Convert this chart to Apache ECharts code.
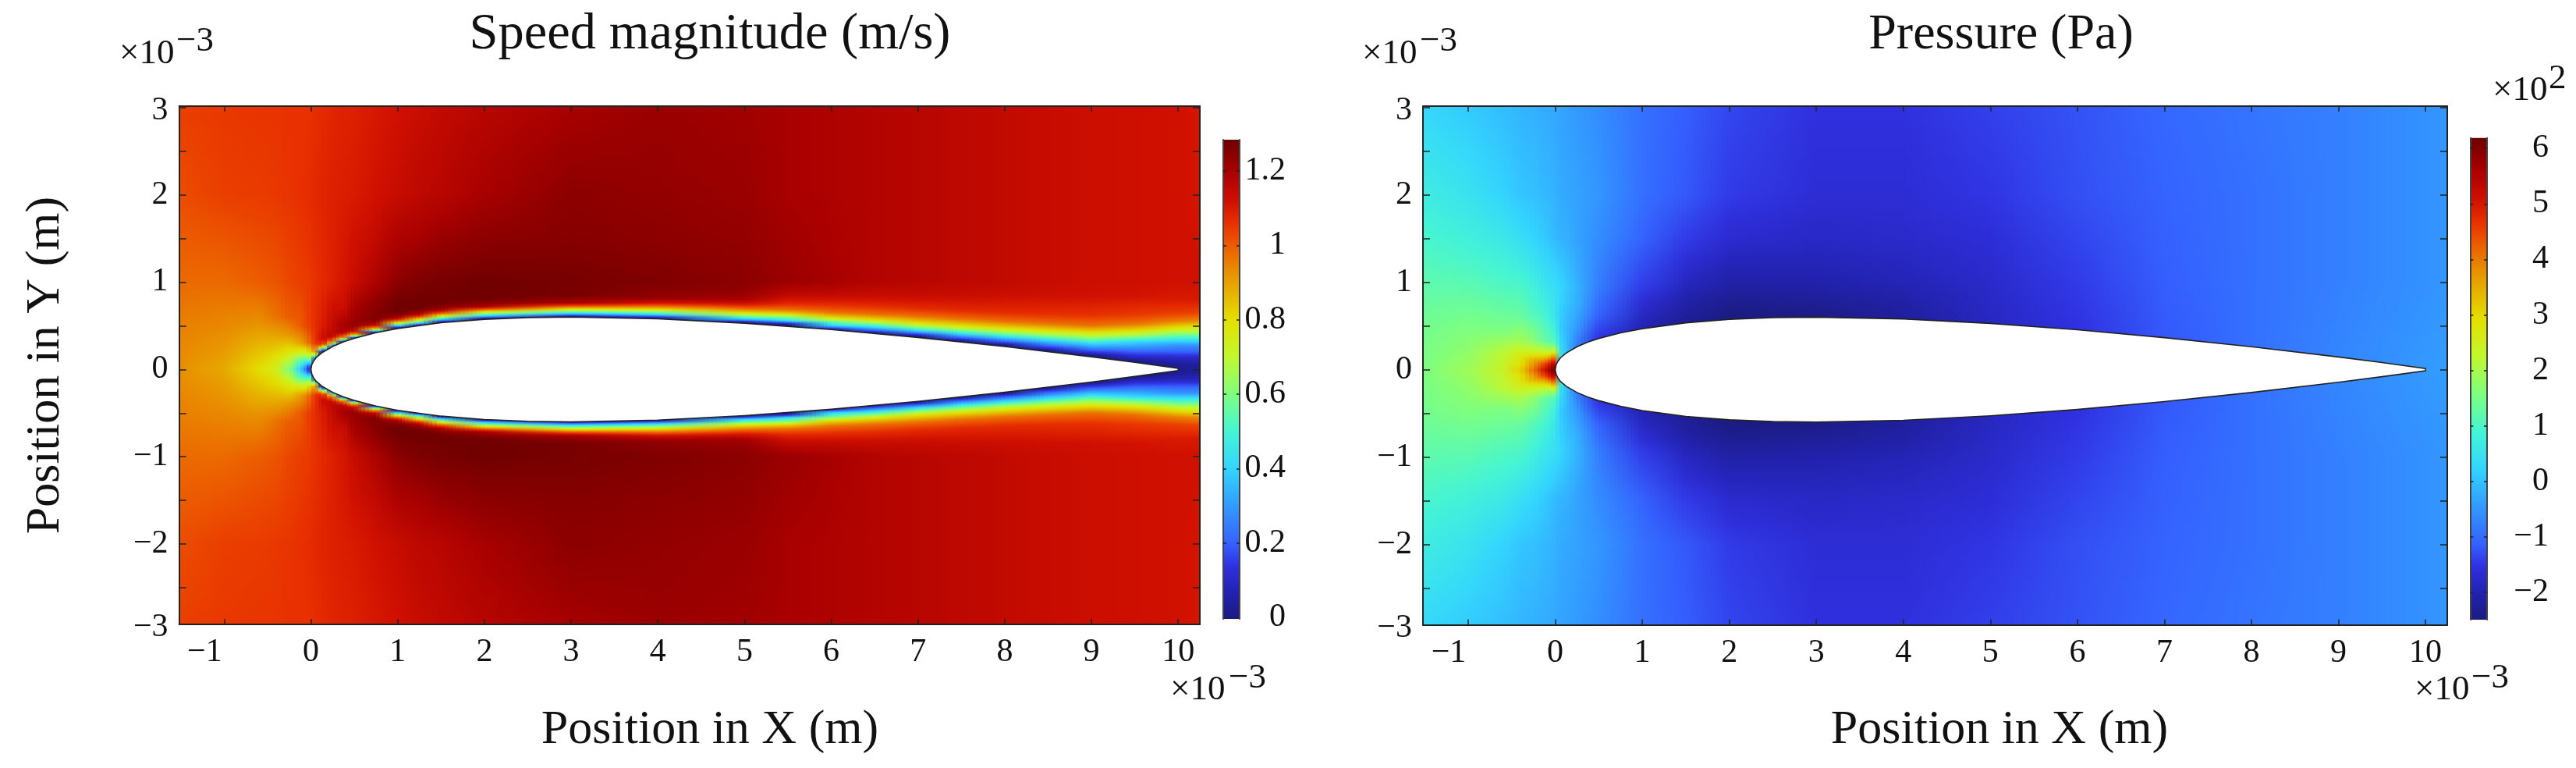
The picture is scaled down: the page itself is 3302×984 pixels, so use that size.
<!DOCTYPE html>
<html>
<head>
<meta charset="utf-8">
<title>Speed magnitude and pressure</title>
<style>
html,body{margin:0;padding:0;background:#fff;}
#main{width:3302px;height:984px;}
</style>
<script src="https://cdn.jsdelivr.net/npm/echarts@6/dist/echarts.min.js"></script>
</head>
<body>
<div id="main"></div>
<script>
// tick positions, x and y in 10^-3 m
var xTicks = [-1,0,1,2,3,4,5,6,7,8,9,10];
var yTicks = [-2.5,-2,-1.5,-1,-0.5,0,0.5,1,1.5,2,2.5,3];
var speedTicks = [0.2,0.4,0.6,0.8,1,1.2];
var speedLabels = [0,0.2,0.4,0.6,0.8,1,1.2];
var pressureTicks = [-2,-1,0,1,2,3,4,5,6];

// airfoil half thickness
var foilX = [0,0.01,0.03,0.06,0.125,0.25,0.375,0.5,0.75,1,1.5,2,2.5,3,4,5,6,7,8,9,9.5,10];
var foilY = [0,0.055,0.095,0.135,0.19,0.262,0.315,0.3555,0.42,0.468,0.535,0.574,0.594,0.6,0.58,0.529,0.456,0.366,0.262,0.145,0.081,0.013];

// speed, column by column: y, value, y, value ... (upper half, the field is symmetric)
var speedX = [-1.52,-1,-0.6,-0.4,-0.25,-0.12,-0.05,0,0.05,0.125,0.18,0.25,0.375,0.5,0.75,1,1.25,1.5,2,3,4,5,5.5,6,6.5,7,7.5,8,8.5,9,9.5,10,10.25];
var speedCols = [
	[0,0.93, 0.5,0.95, 1,0.98, 2,1.02, 3,1.04],
	[0,0.89, 0.5,0.94, 1,0.98, 2,1.04, 3,1.05],
	[0,0.8, 0.5,0.92, 1,1.0, 2,1.045, 3,1.055],
	[0,0.74, 0.4,0.9, 0.6,0.97, 1,1.01, 2,1.05, 3,1.055],
	[0,0.6, 0.2,0.78, 0.4,0.92, 0.6,1.0, 1,1.03, 2,1.055, 3,1.06],
	[0,0.4, 0.1,0.55, 0.2,0.76, 0.3,0.9, 0.5,1.0, 1,1.04, 2,1.06, 3,1.06],
	[0,0.2, 0.06,0.38, 0.15,0.65, 0.3,0.95, 0.5,1.03, 1,1.045, 2,1.065, 3,1.06],
	[0,0, 0.03,0.1, 0.1,0.55, 0.2,0.85, 0.3,1.0, 0.5,1.05, 1,1.05, 2,1.07, 3,1.06],
	[0.1,0, 0.13,0.1, 0.16,0.6, 0.2,0.92, 0.3,1.06, 0.5,1.07, 1,1.06, 2,1.075, 3,1.065],
	[0.18,0, 0.2,0.1, 0.24,0.7, 0.28,1.05, 0.35,1.12, 0.5,1.09, 1,1.07, 2,1.08, 3,1.07],
	[0.21,0, 0.225,0.1, 0.25,0.55, 0.29,1.0, 0.36,1.15, 0.5,1.12, 1,1.08, 2,1.085, 3,1.075],
	[0.25,0, 0.265,0.1, 0.29,0.55, 0.32,0.95, 0.38,1.16, 0.5,1.15, 1,1.09, 2,1.09, 3,1.08],
	[0.3,0, 0.315,0.1, 0.335,0.5, 0.365,0.95, 0.42,1.18, 0.5,1.2, 0.7,1.13, 1,1.11, 2,1.095, 3,1.085],
	[0.34,0, 0.36,0.1, 0.375,0.5, 0.4,0.9, 0.44,1.15, 0.5,1.23, 0.7,1.2, 1,1.14, 1.5,1.12, 2,1.1, 3,1.09],
	[0.41,0, 0.425,0.15, 0.445,0.55, 0.47,0.9, 0.505,1.15, 0.56,1.26, 0.75,1.24, 1,1.19, 1.5,1.15, 2,1.12, 3,1.105],
	[0.47,0, 0.485,0.2, 0.505,0.5, 0.52,0.65, 0.54,0.85, 0.56,1.03, 0.59,1.2, 0.65,1.28, 0.75,1.28, 1,1.24, 1.5,1.19, 2,1.14, 3,1.12],
	[0.5,0, 0.515,0.2, 0.535,0.5, 0.555,0.68, 0.58,0.85, 0.6,1.03, 0.635,1.2, 0.7,1.28, 0.78,1.28, 1,1.26, 1.5,1.2, 2,1.16, 3,1.135],
	[0.535,0, 0.55,0.15, 0.57,0.4, 0.59,0.6, 0.615,0.8, 0.64,1.0, 0.68,1.2, 0.75,1.28, 1,1.27, 1.5,1.22, 2,1.17, 3,1.15],
	[0.575,0, 0.59,0.15, 0.61,0.4, 0.635,0.6, 0.66,0.8, 0.685,1.0, 0.72,1.2, 0.8,1.28, 1,1.28, 1.5,1.24, 2,1.2, 3,1.17],
	[0.6,0, 0.615,0.15, 0.64,0.4, 0.665,0.6, 0.69,0.8, 0.72,1.0, 0.76,1.2, 0.85,1.27, 1,1.27, 1.5,1.25, 2,1.24, 3,1.2],
	[0.58,0, 0.6,0.15, 0.625,0.4, 0.655,0.6, 0.685,0.8, 0.72,0.97, 0.76,1.12, 0.82,1.23, 1,1.26, 1.5,1.24, 2,1.23, 3,1.22],
	[0.53,0, 0.55,0.15, 0.575,0.4, 0.61,0.6, 0.645,0.8, 0.69,0.97, 0.74,1.1, 0.8,1.2, 0.9,1.23, 1,1.24, 2,1.22, 3,1.21],
	[0.505,0, 0.529,0.15, 0.558,0.45, 0.6,0.6, 0.63,0.8, 0.68,0.97, 0.755,1.08, 0.844,1.15, 1,1.22, 2,1.2, 3,1.2],
	[0.445,0, 0.469,0.15, 0.499,0.4, 0.553,0.6, 0.589,0.8, 0.649,0.97, 0.739,1.07, 0.85,1.15, 1,1.2, 2,1.19, 3,1.19],
	[0.407,0, 0.434,0.15, 0.478,0.4, 0.52,0.6, 0.565,0.8, 0.628,0.97, 0.724,1.07, 0.844,1.14, 1,1.18, 2,1.18, 3,1.18],
	[0.37,0, 0.4,0.15, 0.439,0.4, 0.478,0.6, 0.529,0.8, 0.604,0.97, 0.694,1.07, 0.844,1.14, 1,1.17, 2,1.17, 3,1.17],
	[0.319,0, 0.349,0.15, 0.4,0.4, 0.445,0.6, 0.499,0.8, 0.574,0.97, 0.67,1.07, 0.844,1.135, 1,1.16, 2,1.16, 3,1.16],
	[0.274,0, 0.304,0.15, 0.364,0.4, 0.409,0.6, 0.469,0.8, 0.544,0.97, 0.649,1.07, 0.844,1.13, 1,1.15, 2,1.15, 3,1.15],
	[0.213,0, 0.25,0.15, 0.327,0.4, 0.379,0.6, 0.445,0.8, 0.52,0.97, 0.634,1.065, 0.844,1.125, 1,1.14, 2,1.14, 3,1.14],
	[0.153,0, 0.2,0.15, 0.289,0.4, 0.349,0.6, 0.424,0.8, 0.499,0.97, 0.619,1.06, 0.844,1.12, 1,1.13, 2,1.13, 3,1.13],
	[0.08,0, 0.17,0.15, 0.31,0.4, 0.37,0.6, 0.44,0.8, 0.52,0.97, 0.63,1.05, 0.844,1.115, 1,1.125, 2,1.125, 3,1.125],
	[0,0.02, 0.05,0.03, 0.13,0.1, 0.2,0.2, 0.28,0.3, 0.34,0.45, 0.4,0.6, 0.47,0.78, 0.55,0.95, 0.64,1.04, 0.8,1.1, 1,1.12, 2,1.12, 3,1.12],
	[0,0.03, 0.05,0.04, 0.13,0.1, 0.2,0.2, 0.28,0.3, 0.34,0.45, 0.4,0.6, 0.47,0.75, 0.55,0.93, 0.64,1.03, 0.79,1.1, 1,1.12, 2,1.11, 3,1.11]
];

// pressure read the same way, in 10^2 Pa
var pressureX = [-1.52,-1,-0.6,-0.4,-0.25,-0.12,-0.05,0,0.05,0.125,0.25,0.5,1,1.5,2,3,4,5,6,7,8,9,10,10.25];
var pressureCols = [
	[0,1.55, 0.5,1.45, 1,1.2, 1.5,0.95, 2,0.72, 2.5,0.5, 3,0.3],
	[0,1.9, 0.5,1.55, 1,1.15, 1.5,0.8, 2,0.5, 3,0.1],
	[0,2.4, 0.2,2.2, 0.45,1.55, 0.9,1.1, 1.5,0.6, 2,0.22, 3,-0.05],
	[0,3.1, 0.18,2.6, 0.33,1.95, 0.63,1.3, 0.9,1.05, 1.5,0.4, 2,0.05, 3,-0.15],
	[0,4.1, 0.12,3.4, 0.21,2.4, 0.33,1.7, 0.63,1.1, 0.9,0.85, 1.5,0.25, 2,0, 3,-0.2],
	[0,5.1, 0.07,4.5, 0.12,3.6, 0.2,2.4, 0.33,1.3, 0.6,0.95, 0.9,0.6, 1.5,0.1, 2,-0.1, 3,-0.25],
	[0,5.85, 0.05,5.4, 0.1,4.6, 0.15,3.5, 0.22,2.1, 0.33,1.15, 0.6,0.75, 0.9,0.5, 1.5,0, 2,-0.12, 3,-0.28],
	[0,6.15, 0.05,5.7, 0.1,4.95, 0.15,4, 0.22,2.3, 0.3,1.2, 0.4,0.85, 0.63,0.5, 0.93,0.42, 1.5,-0.1, 2,-0.2, 3,-0.3],
	[0.1,0.9, 0.13,0.7, 0.21,0.5, 0.48,0.15, 0.93,0.3, 1.5,-0.15, 2,-0.25, 3,-0.33],
	[0.19,0, 0.3,-0.05, 0.48,-0.1, 0.93,0.1, 1.5,-0.2, 2,-0.3, 3,-0.38],
	[0.27,-0.8, 0.48,-0.45, 0.75,-0.2, 0.93,-0.15, 1.5,-0.35, 2,-0.35, 3,-0.45],
	[0.355,-1.55, 0.63,-1.1, 0.93,-0.8, 1.5,-0.6, 2,-0.5, 3,-0.6],
	[0.468,-2, 0.69,-1.75, 0.93,-1.45, 1.5,-1.1, 2,-0.95, 3,-0.95],
	[0.53,-2.3, 0.7,-2.15, 1,-1.85, 1.5,-1.45, 2,-1.2, 3,-1.15],
	[0.57,-2.49, 0.7,-2.4, 1,-2.1, 1.5,-1.7, 2,-1.45, 3,-1.35],
	[0.6,-2.45, 0.8,-2.25, 1,-2.05, 1.5,-1.8, 2,-1.65, 3,-1.55],
	[0.58,-2.2, 0.8,-2.1, 1,-1.95, 1.5,-1.75, 2,-1.65, 3,-1.55],
	[0.53,-1.85, 1,-1.75, 2,-1.5, 3,-1.4],
	[0.46,-1.55, 1,-1.45, 2,-1.28, 3,-1.25],
	[0.37,-1.2, 1,-1.15, 2,-1.1, 3,-1.05],
	[0.26,-0.95, 1,-0.95, 2,-0.95, 3,-0.9],
	[0.15,-0.7, 1,-0.75, 3,-0.75],
	[0,-0.46, 1,-0.55, 3,-0.55],
	[0,-0.42, 1,-0.5, 3,-0.5]
];

// colour scale, bottom to top of the colorbar
var mapPos = [0,0.055,0.11,0.156,0.234,0.312,0.39,0.467,0.545,0.623,0.724,0.779,0.826,0.872,0.935,1];
var mapColors = ['#1b1b80','#2222b0','#3030e0','#3560ff','#3399ff','#33d4ff','#44f5d5','#7dff80','#c0f830','#e4e000','#e89000','#ec5c00','#e83000','#d01000','#a80000','#6e0000'];

var xMin = -1.52, xMax = 10.25, yMin = -2.92, yMax = 3.015;
var speedMin = -0.004, speedMax = 1.284;
var pressureMin = -2.49, pressureMax = 6.19;
var TEXT_FONT = '"Liberation Serif", "Times New Roman", serif';

function hex(c){
	return [parseInt(c.substr(1,2),16),parseInt(c.substr(3,2),16),parseInt(c.substr(5,2),16)];
}
function colorAt(f){
	f = Math.max(0,Math.min(1,f));
	for(var i=1;i<mapPos.length;i++){
		if(f<=mapPos[i]){
			var t = (f-mapPos[i-1])/(mapPos[i]-mapPos[i-1]);
			var a = hex(mapColors[i-1]), b = hex(mapColors[i]);
			return 'rgb('+Math.round(a[0]+(b[0]-a[0])*t)+','+Math.round(a[1]+(b[1]-a[1])*t)+','+Math.round(a[2]+(b[2]-a[2])*t)+')';
		}
	}
	return mapColors[mapColors.length-1];
}

// gradient stops of one column. The colour scale is not linear in rgb so each read step gets several stops
function columnStops(col,vMin,vMax){
	var top = 3.1, stops = [];
	function put(y,v){
		stops.push({offset:Math.max(0,Math.min(1,y/top)),color:colorAt((v-vMin)/(vMax-vMin))});
	}
	put(0,col[1]);
	for(var i=0;i<col.length;i+=2){
		if(i==0){
			put(col[0],col[1]);
			continue;
		}
		var n = Math.max(1,Math.ceil(Math.abs(col[i+1]-col[i-1])/(vMax-vMin)/0.025));
		for(var k=1;k<=n;k++){
			put(col[i-2]+(col[i]-col[i-2])*k/n,col[i-1]+(col[i+1]-col[i-1])*k/n);
		}
	}
	put(top,col[col.length-1]);
	return stops;
}

function makeField(xs,cols,vMin,vMax){
	var up = cols.map(function(c){ return columnStops(c,vMin,vMax); });
	function rect(x0,x1,stops,flip,yTop,yZero,opacity){
		var g = flip ? new echarts.graphic.LinearGradient(0,0,0,1,stops)
		             : new echarts.graphic.LinearGradient(0,1,0,0,stops);
		return {type:'rect',silent:true,
			shape:{x:x0,y:Math.min(yTop,yZero),width:x1-x0,height:Math.abs(yZero-yTop)},
			style:{fill:g,opacity:opacity}};
	}
	return function(params,api){
		var i = api.value(2);
		var x0 = Math.round(api.coord([api.value(0),0])[0]);
		var x1 = Math.round(api.coord([api.value(1),0])[0]);
		var yZero = Math.round(api.coord([0,0])[1]);
		var yUp = api.coord([0,3.1])[1], yDown = api.coord([0,-3.1])[1];
		var kids = [];
		[[yUp,false],[yDown,true]].forEach(function(side){
			kids.push(rect(x0,x1,up[i],side[1],side[0],yZero,1));
			// fade into the next read column so the columns do not show as bands
			var K = Math.max(1,Math.round((x1-x0)/5));
			for(var k=0;k<K;k++){
				var a = x0+Math.round((x1-x0)*k/K), b = x0+Math.round((x1-x0)*(k+1)/K);
				kids.push(rect(a,b,up[i+1],side[1],side[0],yZero,(k+0.5)/K));
			}
		});
		return {type:'group',children:kids};
	};
}

function foilItem(params,api){
	var pts = [], i;
	for(i=0;i<foilX.length;i++) pts.push(api.coord([foilX[i],foilY[i]]));
	for(i=foilX.length-1;i>=1;i--) pts.push(api.coord([foilX[i],-foilY[i]]));
	return {type:'polygon',silent:true,shape:{points:pts},style:{fill:'#fff',stroke:'#222',lineWidth:1.6}};
}

function barItem(vMin,vMax){
	return function(params,api){
		var a = api.coord([0,vMin]), b = api.coord([1,vMax]);
		var stops = mapPos.map(function(p,i){ return {offset:p,color:mapColors[i]}; });
		return {type:'rect',silent:true,shape:{x:a[0],y:b[1],width:b[0]-a[0],height:a[1]-b[1]},
			style:{fill:new echarts.graphic.LinearGradient(0,1,0,0,stops)}};
	};
}

function sign(v){
	return String(v).replace('-','\u2212');
}

var grids = [
	{left:229.6,top:136,width:1308.4,height:664},
	{left:1824,top:136,width:1313,height:664.5},
	{left:1568,top:179,width:21,height:614},
	{left:3166.4,top:176.7,width:21.6,height:617.3}
];
var axisLine = {show:true,onZero:false,lineStyle:{color:'#222',width:2}};
var richNeg = {neg:{fontFamily:TEXT_FONT,fontSize:42,color:'#111',padding:[0,50,0,0]}};
var richEdge = {edge:{fontFamily:TEXT_FONT,fontSize:42,color:'#111',padding:[8,0,0,0]}};

function plotX(g,pos){
	return {gridIndex:g,type:'value',min:xMin,max:xMax,position:pos,z:10,splitLine:{show:false},axisLine:axisLine,
		axisTick:{show:true,inside:true,length:7,lineStyle:{color:'#222',width:1.5},customValues:xTicks},
		axisLabel:pos=='bottom'?{show:true,customValues:xTicks,margin:15,fontFamily:TEXT_FONT,fontSize:42,color:'#111',rich:richNeg,
			formatter:function(v){ return v<0?'{neg|'+sign(v)+'}':sign(v); }}:{show:false}};
}
function plotY(g,pos,name){
	return {gridIndex:g,type:'value',min:yMin,max:yMax,position:pos,z:10,splitLine:{show:false},axisLine:axisLine,
		name:name||'',nameLocation:'middle',nameRotate:90,nameGap:140,nameTextStyle:{fontFamily:TEXT_FONT,fontSize:62,color:'#111'},
		axisTick:{show:true,inside:true,length:9,lineStyle:{color:'#222',width:1.5},customValues:yTicks},
		axisLabel:pos=='left'?{show:true,customValues:[yMin,-2,-1,0,1,2,3],margin:14,fontFamily:TEXT_FONT,fontSize:42,color:'#111',rich:richEdge,
			formatter:function(v){
				if(v==yMin) return '{edge|\u22123}';
				return v==3?'{edge|3}':sign(v);
			}}:{show:false}};
}
function barX(g){
	return {gridIndex:g,type:'value',min:0,max:1,show:false};
}
function barY(g,pos,lo,hi,ticks,labels,margin){
	return {gridIndex:g,type:'value',min:lo,max:hi,position:pos,z:10,splitLine:{show:false},
		axisLine:{show:true,onZero:false,lineStyle:{color:'#444',width:2}},
		axisTick:{show:true,inside:true,length:4,lineStyle:{color:'#222',width:1.5},customValues:ticks},
		axisLabel:pos=='right'?{show:true,customValues:labels,margin:margin,align:'right',padding:[0,0,6,0],
			fontFamily:TEXT_FONT,fontSize:42,color:'#111',formatter:sign}:{show:false}};
}

function fieldSeries(xs,cols,lo,hi,xi,yi){
	return {type:'custom',xAxisIndex:xi,yAxisIndex:yi,clip:true,z:2,silent:true,
		renderItem:makeField(xs,cols,lo,hi),
		encode:{x:[0,1]},
		data:xs.slice(0,-1).map(function(x,i){ return [x,xs[i+1],i]; })};
}
function foilSeries(xi,yi){
	return {type:'custom',xAxisIndex:xi,yAxisIndex:yi,clip:true,z:3,silent:true,renderItem:foilItem,encode:{x:0},data:[[0]]};
}
function colorbarSeries(lo,hi,xi,yi){
	return {type:'custom',xAxisIndex:xi,yAxisIndex:yi,z:2,silent:true,renderItem:barItem(lo,hi),encode:{x:0},data:[[0]]};
}

// text placed by its baseline
function word(x,base,text,size,align){
	return {type:'text',x:x,y:base-0.337*size,silent:true,z:20,
		style:{text:text,font:size+'px '+TEXT_FONT,fill:'#111',align:align||'left',verticalAlign:'middle'}};
}

var option = {
	animation:false,
	backgroundColor:'#fff',
	grid:grids,
	xAxis:[plotX(0,'bottom'),plotX(0,'top'),plotX(1,'bottom'),plotX(1,'top'),barX(2),barX(3)],
	yAxis:[plotY(0,'left','Position in Y (m)'),plotY(0,'right'),plotY(1,'left'),plotY(1,'right'),
		barY(2,'left',speedMin,speedMax,speedTicks),barY(2,'right',speedMin,speedMax,speedTicks,speedLabels,59),
		barY(3,'left',pressureMin,pressureMax,pressureTicks),barY(3,'right',pressureMin,pressureMax,pressureTicks,pressureTicks,79)],
	series:[
		fieldSeries(speedX,speedCols,speedMin,speedMax,0,0),
		foilSeries(0,0),
		fieldSeries(pressureX,pressureCols,pressureMin,pressureMax,2,2),
		foilSeries(2,2),
		colorbarSeries(speedMin,speedMax,4,4),
		colorbarSeries(pressureMin,pressureMax,5,6)
	],
	graphic:{elements:[
		word(910,67,'Speed magnitude (m/s)',66.5,'center'),
		word(2565,67,'Pressure (Pa)',64,'center'),
		word(910,957,'Position in X (m)',62,'center'),
		word(2563,957,'Position in X (m)',62,'center'),
		word(153,84,'\u00d710',45), word(226,68,'\u22123',45),
		word(1746,84,'\u00d710',45), word(1820,68,'\u22123',45),
		word(1500,899,'\u00d710',45), word(1575,884,'\u22123',45),
		word(3095,899,'\u00d710',45), word(3168,884,'\u22123',45),
		word(3195,131,'\u00d710',45), word(3267,116,'2',45)
	]}
};

var myChart = echarts.init(document.getElementById('main'));
myChart.setOption(option);
</script>
</body>
</html>
